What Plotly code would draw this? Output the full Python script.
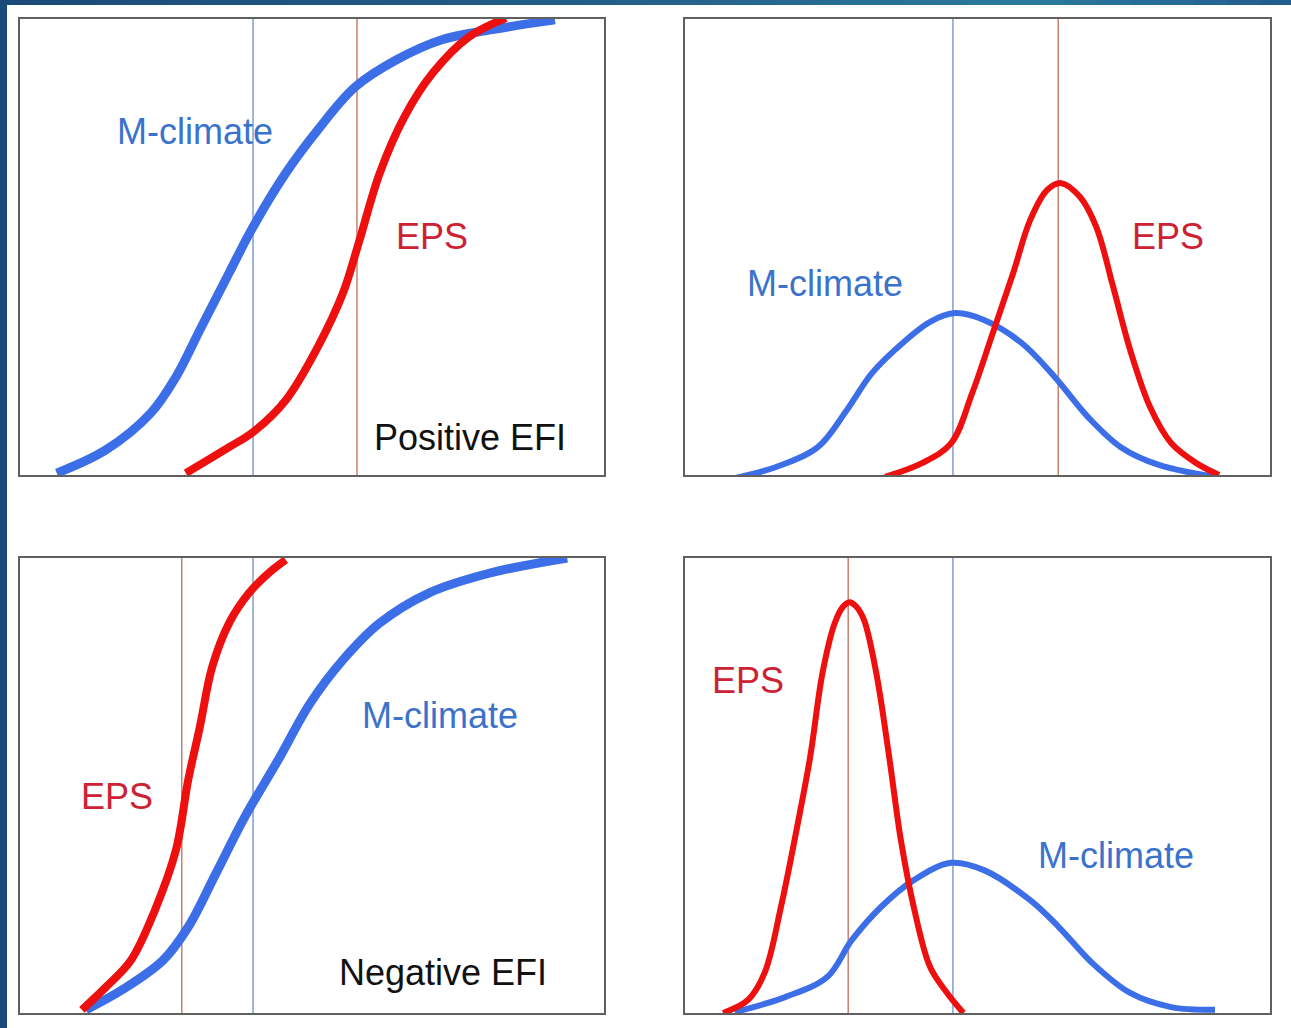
import plotly.graph_objects as go

W, H = 1291, 1028

# ---- data (panel units: x 0..100 across box, y 0..100 up box) ----
# Top-left: cumulative distributions, positive EFI
tl_mclim_x = [6.3, 14.7, 22.4, 26.7, 30.8, 35.8, 39.9, 45.5, 51.0, 57.4, 64.4, 72.1, 80.5, 91.6]
tl_mclim_y = [0.4, 5.5, 13.6, 21.5, 31.8, 44.3, 54.4, 66.2, 75.7, 85.1, 91.0, 95.4, 97.6, 99.8]
tl_eps_x = [28.4, 35.8, 39.9, 45.5, 51.0, 55.3, 58.0, 61.6, 65.8, 70.7, 76.9, 83.2]
tl_eps_y = [0.4, 6.1, 9.4, 16.4, 28.1, 39.9, 50.9, 66.2, 78.5, 88.2, 96.1, 100.2]
tl_vlines = {"mclim": 39.9, "eps": 57.7}

# Top-right: densities, positive EFI
tr_mclim_x = [8.5, 15.7, 22.7, 27.7, 32.0, 37.8, 41.9, 46.2, 51.1, 57.6, 63.2, 68.9, 74.5, 81.0, 90.6]
tr_mclim_y = [-0.7, 1.8, 6.1, 14.3, 22.4, 29.6, 33.6, 35.5, 34.0, 28.9, 21.5, 12.7, 6.1, 2.2, -0.4]
tr_eps_x = [34.2, 40.5, 45.5, 49.1, 52.6, 56.1, 59.0, 61.9, 64.3, 67.5, 70.3, 73.2, 76.1, 79.5, 83.1, 87.4, 91.3]
tr_eps_y = [-0.4, 2.6, 7.0, 18.0, 31.1, 44.3, 55.9, 62.5, 64.0, 61.0, 54.4, 41.2, 27.4, 14.9, 7.0, 2.6, 0.0]
tr_vlines = {"mclim": 45.8, "eps": 63.8}

# Bottom-left: cumulative distributions, negative EFI
bl_eps_x = [10.6, 14.7, 19.0, 23.1, 26.7, 28.8, 30.8, 32.9, 35.8, 39.2, 42.6, 45.5]
bl_eps_y = [0.7, 5.7, 11.6, 22.6, 35.8, 51.2, 62.9, 76.0, 85.7, 92.3, 96.7, 99.6]
bl_mclim_x = [11.3, 17.5, 24.5, 28.8, 33.6, 38.5, 44.2, 49.7, 55.3, 61.6, 70.0, 80.5, 93.7]
bl_mclim_y = [0.7, 5.1, 11.6, 18.9, 30.8, 43.1, 55.6, 68.1, 77.6, 85.7, 92.3, 96.7, 100.0]
bl_vlines = {"mclim": 39.9, "eps": 27.7}

# Bottom-right: densities, negative EFI
br_eps_x = [6.5, 10.8, 13.6, 16.4, 19.3, 21.4, 23.5, 25.6, 27.0, 28.1, 29.3, 30.6, 32.7, 34.9, 36.9, 39.1, 41.9, 44.8, 47.6]
br_eps_y = [0.0, 2.9, 8.8, 23.3, 41.8, 56.3, 74.7, 85.7, 89.3, 90.3, 89.3, 86.4, 74.7, 56.3, 38.0, 23.3, 10.1, 4.4, 0.0]
br_mclim_x = [8.5, 17.1, 24.3, 28.5, 33.5, 39.1, 45.5, 51.1, 59.0, 63.9, 69.6, 76.1, 83.1, 90.6]
br_mclim_y = [0.2, 3.5, 7.9, 16.0, 23.3, 29.2, 33.0, 31.4, 24.8, 18.9, 11.0, 4.4, 1.3, 0.7]
br_vlines = {"mclim": 45.8, "eps": 27.9}

# labels: (text, x, y, kind)
tl_labels = [("M-climate", 30.0, 75.4, "mclim"), ("EPS", 70.5, 52.3, "eps"), ("Positive EFI", 77.0, 8.3, "note")]
tr_labels = [("EPS", 82.6, 52.2, "eps"), ("M-climate", 23.9, 41.9, "mclim")]
bl_labels = [("EPS", 16.6, 47.5, "eps"), ("M-climate", 71.9, 65.3, "mclim"), ("Negative EFI", 72.4, 9.0, "note")]
br_labels = [("EPS", 10.8, 73.0, "eps"), ("M-climate", 73.7, 34.7, "mclim")]

# ---- styles ----
BLUE_LINE = "#3c6ee8"
RED_LINE = "#ee0f0f"
BLUE_V = "#7f9fcc"
RED_V = "#c8806e"
TEXT_COL = {"mclim": "#3a72cc", "eps": "#cc2233", "note": "#111111"}
FONT = "Liberation Sans, Arial, sans-serif"

fig = go.Figure()

xdom = {"L": [20 / W, 604 / W], "R": [685 / W, 1270 / W]}
ydom = {"T": [1 - 475 / H, 1 - 19 / H], "B": [1 - 1013 / H, 1 - 558 / H]}

panels = [
    ("x", "y", "L", "T", tl_mclim_x, tl_mclim_y, tl_eps_x, tl_eps_y, tl_vlines, tl_labels, 9, 8),
    ("x2", "y2", "R", "T", tr_mclim_x, tr_mclim_y, tr_eps_x, tr_eps_y, tr_vlines, tr_labels, 6, 6),
    ("x3", "y3", "L", "B", bl_mclim_x, bl_mclim_y, bl_eps_x, bl_eps_y, bl_vlines, bl_labels, 9, 8),
    ("x4", "y4", "R", "B", br_mclim_x, br_mclim_y, br_eps_x, br_eps_y, br_vlines, br_labels, 6, 6),
]

for i, (xa, ya, xc, yr, mx, my, ex, ey, vl, labels, wm, we) in enumerate(panels):
    sfx = "" if i == 0 else str(i + 1)
    axstyle = dict(range=[0, 100], showgrid=False, zeroline=False, showticklabels=False,
                   ticks="", showline=True, mirror=True, linecolor="#606060", linewidth=2, fixedrange=True)
    fig.update_layout(**{
        "xaxis" + sfx: dict(domain=xdom[xc], anchor=ya, **axstyle),
        "yaxis" + sfx: dict(domain=ydom[yr], anchor=xa, **axstyle),
    })
    # vertical reference lines
    fig.add_trace(go.Scatter(x=[vl["mclim"], vl["mclim"]], y=[0, 100], mode="lines",
                             line=dict(color=BLUE_V, width=1.5), xaxis=xa, yaxis=ya,
                             showlegend=False, hoverinfo="skip"))
    fig.add_trace(go.Scatter(x=[vl["eps"], vl["eps"]], y=[0, 100], mode="lines",
                             line=dict(color=RED_V, width=1.5), xaxis=xa, yaxis=ya,
                             showlegend=False, hoverinfo="skip"))
    # curves
    fig.add_trace(go.Scatter(x=mx, y=my, mode="lines", line=dict(color=BLUE_LINE, width=wm, shape="spline", smoothing=1.0),
                             xaxis=xa, yaxis=ya, cliponaxis=False, showlegend=False, name="M-climate"))
    fig.add_trace(go.Scatter(x=ex, y=ey, mode="lines", line=dict(color=RED_LINE, width=we, shape="spline", smoothing=1.0),
                             xaxis=xa, yaxis=ya, cliponaxis=False, showlegend=False, name="EPS"))
    for txt, tx, ty, kind in labels:
        fig.add_annotation(text=txt, x=tx, y=ty, xref=xa, yref=ya, showarrow=False,
                           font=dict(family=FONT, size=36, color=TEXT_COL[kind]))

# decorative dark-blue frame (left and top strips, with gradient on top)
shapes = [dict(type="rect", xref="paper", yref="paper", x0=0, x1=7 / W, y0=0, y1=1,
               fillcolor="#1b4a7a", line=dict(width=0), layer="above")]
grad = [(0, (27, 74, 122)), (0.5, (36, 96, 140)), (0.8, (44, 122, 160)), (1.0, (34, 92, 140))]
N = 40
for k in range(N):
    t = (k + 0.5) / N
    for j in range(len(grad) - 1):
        if grad[j][0] <= t <= grad[j + 1][0]:
            a, ca = grad[j]
            b, cb = grad[j + 1]
            f = (t - a) / (b - a)
            c = tuple(int(ca[m] + (cb[m] - ca[m]) * f) for m in range(3))
            break
    shapes.append(dict(type="rect", xref="paper", yref="paper", x0=k / N, x1=(k + 1) / N + 0.001,
                       y0=1 - 5 / H, y1=1, fillcolor="rgb(%d,%d,%d)" % c, line=dict(width=0), layer="above"))

fig.update_layout(width=W, height=H, margin=dict(l=0, r=0, t=0, b=0),
                  paper_bgcolor="white", plot_bgcolor="white", showlegend=False, shapes=shapes)

fig.write_html("out.html", config={"displayModeBar": False},
               post_script="document.body.style.margin='0';document.body.style.overflow='hidden';")
